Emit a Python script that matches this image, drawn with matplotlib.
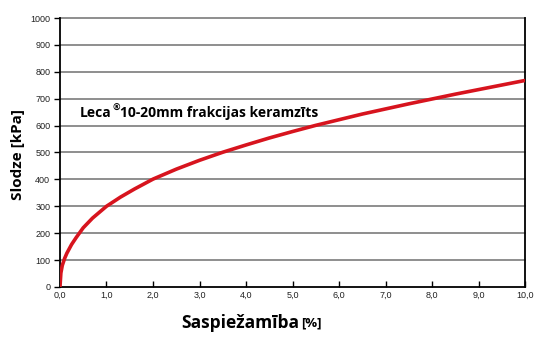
import matplotlib.pyplot as plt
import numpy as np

# compressibility [%] vs load [kPa]
strain = [0, 0.02, 0.05, 0.1, 0.15, 0.25, 0.35, 0.5, 0.7, 1.0, 1.3, 1.6, 2.0,
          2.5, 3.0, 3.5, 4.0, 4.5, 5.0, 5.5, 6.0, 6.5, 7.0, 7.5, 8.0, 8.5,
          9.0, 9.5, 10.0]
load = [0, 52, 80, 106, 126, 158, 184, 220, 256, 300, 334, 364, 401,
        438, 471, 501, 528, 554, 578, 601, 622, 643, 662, 681, 699, 717,
        734, 751, 768]

x_ticks = np.arange(0, 11, 1)
x_labels = ['0,0', '1,0', '2,0', '3,0', '4,0', '5,0', '6,0', '7,0', '8,0', '9,0', '10,0']
y_ticks = np.arange(0, 1100, 100)

fig = plt.figure(figsize=(5.5, 3.4), dpi=100)
ax = fig.add_axes([0.109, 0.156, 0.846, 0.791])

for y in y_ticks[1:]:
    ax.axhline(y, color='#707070', lw=1.1, zorder=1, clip_on=False)

ax.plot(strain, load, color='#d7141e', lw=2.6, zorder=3,
        solid_joinstyle='round', solid_capstyle='butt')

ax.set_xlim(0, 10)
ax.set_ylim(0, 1000)
ax.set_xticks(x_ticks)
ax.set_xticklabels(x_labels)
ax.set_yticks(y_ticks)
ax.tick_params(axis='x', direction='in', length=4, width=1, labelsize=6.5, pad=3)
ax.tick_params(axis='y', direction='out', length=4, width=1, labelsize=6.5, pad=3)
for lab in ax.get_xticklabels() + ax.get_yticklabels():
    lab.set_family('Liberation Sans')
    lab.set_color('#222222')

ax.spines['top'].set_visible(False)
for s in ['left', 'bottom', 'right']:
    ax.spines[s].set_linewidth(1.3)
    ax.spines[s].set_color('black')

# label with superscript ® built from three pieces
fig.canvas.draw()
r = fig.canvas.get_renderer()
t1 = ax.text(0.43, 648, 'Leca', fontsize=10, fontweight='bold',
             family='Open Sans', va='center', ha='left', zorder=4)
bb = t1.get_window_extent(r)
x2, y2 = ax.transData.inverted().transform((bb.x1 + 0.5, bb.y0 + bb.height * 0.5))
t2 = ax.text(x2, y2, '®', fontsize=6.5, fontweight='bold',
             family='Open Sans', va='bottom', ha='left', zorder=4)
bb2 = t2.get_window_extent(r)
x3, _ = ax.transData.inverted().transform((bb2.x1 + 0.3, 0))
ax.text(x3, 648, '10-20mm frakcijas keramzīts', fontsize=10, fontweight='bold',
        family='Open Sans', va='center', ha='left', zorder=4)

fig.text(0.033, 0.545, 'Slodze [kPa]', rotation=90, fontsize=11, fontweight='bold',
         family='Open Sans', ha='center', va='center')
fig.text(0.545, 0.05, 'Saspiežamība', fontsize=12.5, fontweight='bold',
         family='Open Sans', ha='right', va='center')
fig.text(0.547, 0.05, '[%]', fontsize=9.5, fontweight='bold',
         family='Open Sans', ha='left', va='center')

fig.savefig('out.png', dpi=100)
